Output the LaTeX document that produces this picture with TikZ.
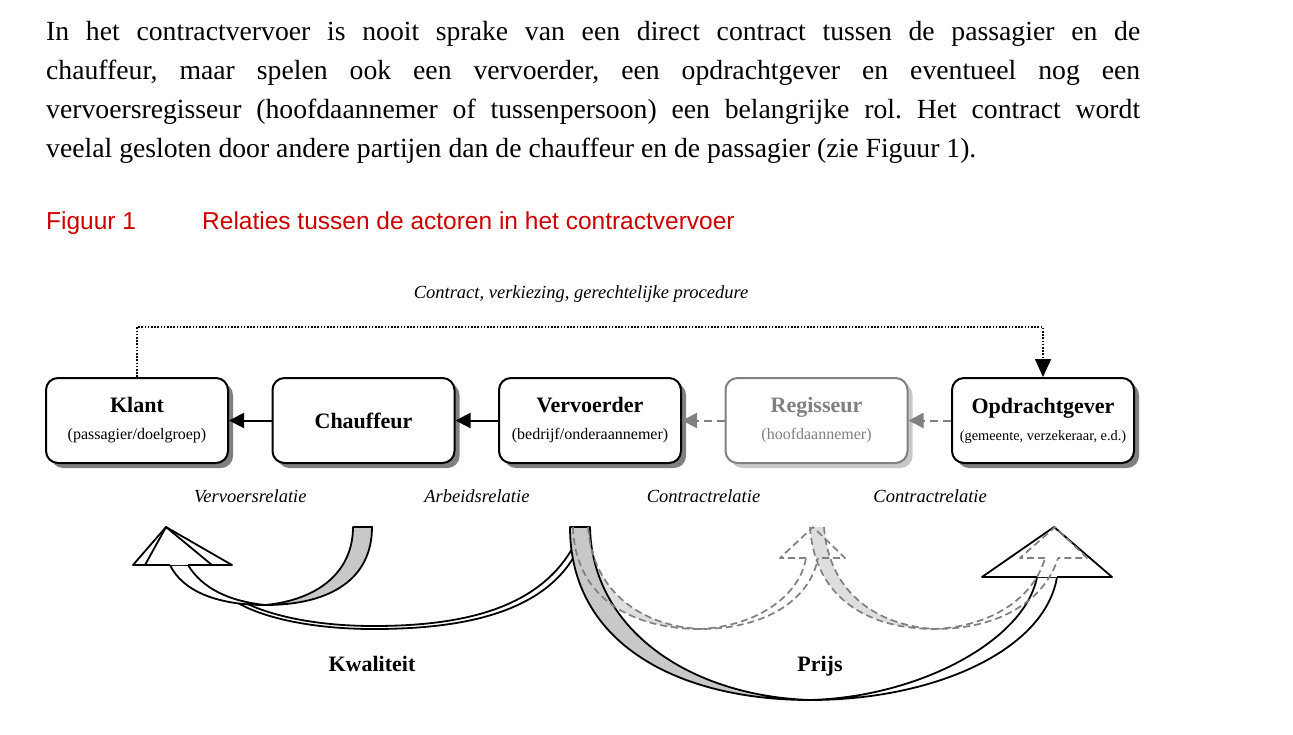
\documentclass[tikz,border=0pt]{standalone}
\usepackage{fontspec}
\setmainfont{Liberation Serif}
\newfontfamily\captionfont{Liberation Sans}
\definecolor{CapRed}{RGB}{204, 0, 0}
\definecolor{ShadeGray}{RGB}{200, 200, 200}
\definecolor{PaleGray}{RGB}{222, 222, 222}
\definecolor{GhostGray}{RGB}{128, 128, 128}
\usetikzlibrary{arrows.meta, positioning, shadows}
\frenchspacing

\begin{document}
\begin{tikzpicture}[x=1pt, y=-1pt,
            intro/.style={text width=1094pt, align=justify, inner sep=0pt, font=\fontsize{27.7}{39}\selectfont},
            caption/.style={inner sep=0pt, text=CapRed, font=\captionfont\fontsize{24.5}{28}\selectfont},
            boxbase/.style={rectangle, line width=2pt, rounded corners=12pt, fill=white, minimum width=182pt, minimum height=85pt, inner sep=0pt, align=center, font=\fontsize{22}{27}\selectfont\bfseries},
            actor/.style={boxbase, draw=black, drop shadow={shadow xshift=5pt, shadow yshift=-5pt, fill=gray, opacity=1}},
            ghost/.style={boxbase, draw=GhostGray, text=GhostGray, drop shadow={shadow xshift=5pt, shadow yshift=-5pt, fill=ShadeGray, opacity=1}},
            link/.style={line width=2pt, -{Triangle[length=15pt, width=15pt]}},
            ghostlink/.style={link, GhostGray, dash pattern=on 8pt off 5pt},
            relation/.style={anchor=base, inner sep=0pt, font=\fontsize{18.5}{22}\selectfont\itshape},
            flow/.style={anchor=base, inner sep=0pt, font=\fontsize{22}{26}\selectfont\bfseries},
            ribbon/.style={draw, line width=1.8pt, line join=round},
            backside/.style={ribbon, fill=ShadeGray},
            frontside/.style={ribbon, fill=white},
            ghostline/.style={draw=GhostGray, line width=1.7pt, line join=round, dash pattern=on 7pt off 4pt},
        ]
            \useasboundingbox (0,0) rectangle (1293,734);

            % tekst boven de figuur
            \node[intro, anchor=base west] (intro) at (46,40) {In het contractvervoer is nooit sprake van een direct contract tussen de passagier en de\linebreak chauffeur, maar spelen ook een vervoerder, een opdrachtgever en eventueel nog een\linebreak vervoersregisseur (hoofdaannemer of tussenpersoon) een belangrijke rol. Het contract wordt\linebreak veelal gesloten door andere partijen dan de chauffeur en de passagier (zie Figuur 1).};
            \node[caption, anchor=base west] (fignum) at (46,229) {Figuur 1};
            \node[caption, anchor=base west] (figtitle) at (202,229) {Relaties tussen de actoren in het contractvervoer};

            % actoren
            \node[actor] (klant) at (137,420.5) {Klant\\{\mdseries\fontsize{16}{27}\selectfont (passagier/doelgroep)}};
            \node[actor, right=42.5pt of klant] (chauffeur) {Chauffeur};
            \node[actor, right=42.5pt of chauffeur] (vervoerder) {Vervoerder\\{\mdseries\fontsize{16}{27}\selectfont (bedrijf/onderaannemer)}};
            \node[ghost, right=42.5pt of vervoerder] (regisseur) {Regisseur\\{\mdseries\fontsize{16}{27}\selectfont (hoofdaannemer)}};
            \node[actor, right=42.5pt of regisseur] (opdracht) {Opdrachtgever\\{\mdseries\fontsize{14.4}{27}\selectfont (gemeente, verzekeraar, e.d.)}};

            \draw[link] (chauffeur) -- (klant);
            \draw[link] (vervoerder) -- (chauffeur);
            \draw[ghostlink] (regisseur) -- (vervoerder);
            \draw[ghostlink] (opdracht) -- (regisseur);
            \draw[line width=1.6pt, dash pattern=on 1.6pt off 1.6pt, -{Triangle[length=18pt, width=16pt]}] (klant.north) -- ++(0,-50) -| (opdracht.north);

            \node[relation] (procedure) at (581,298) {Contract, verkiezing, gerechtelijke procedure};
            \node[relation] (vervoersrel) at (250.3,502) {Vervoersrelatie};
            \node[relation] (arbeidsrel) at (476.9,502) {Arbeidsrelatie};
            \node[relation] (contractrel1) at (703.5,502) {Contractrelatie};
            \node[relation] (contractrel2) at (930.1,502) {Contractrelatie};

            % achterkant van de stippel-pijlen
            \fill[PaleGray] (573,527) -- (588,527) .. controls (593,595) and (645,626) .. (700,629) .. controls (635,629) and (575,600) .. (573,527) -- cycle;
            \fill[PaleGray] (810,527) -- (824,527) .. controls (829,595) and (880,626) .. (935,629) .. controls (870,629) and (815,600) .. (810,527) -- cycle;

            % kwaliteit
            \draw[frontside] (575,555) .. controls (540,616) and (455,629) .. (373,629) .. controls (310,629) and (262,617) .. (238,603) -- (242,601) .. controls (265,614) and (312,626) .. (373,626) .. controls (455,626) and (535,612) .. (572,549);
            \draw[backside] (353,527) -- (372,527) .. controls (372,578) and (332,605) .. (265,605) .. controls (318,600) and (353,572) .. (353,527) -- cycle;
            \draw[frontside] (265,605) .. controls (215,605) and (182,590) .. (170,565) -- (188,565) .. controls (202,588) and (228,601) .. (265,605) -- cycle;
            \draw[frontside] (170,565) -- (133,565) -- (166,527) -- (232,565) -- (188,565);
            \draw[ribbon] (145,565) -- (166,527) -- (212,565);

            % prijs
            \draw[backside] (570,527) -- (590,527) .. controls (592,630) and (690,696) .. (810,700) .. controls (680,700) and (570,645) .. (570,527) -- cycle;
            \draw[frontside] (810,700) .. controls (935,700) and (1045,650) .. (1057,577) -- (1037,577) .. controls (1025,640) and (920,697) .. (810,700) -- cycle;
            \draw[frontside] (1037,577) -- (982,577) -- (1054,527) -- (1112,577) -- (1057,577);

            % via de regisseur
            \draw[ghostline] (573,527) .. controls (575,600) and (635,629) .. (700,629) .. controls (765,629) and (810,600) .. (818,558);
            \draw[ghostline] (588,527) .. controls (593,595) and (645,626) .. (700,629) .. controls (758,626) and (800,595) .. (806,558);
            \draw[ghostline] (806,558) -- (780,558) -- (813,527) -- (845,558) -- (818,558);
            \draw[ghostline] (810,527) .. controls (815,600) and (870,629) .. (935,629) .. controls (1000,629) and (1045,600) .. (1058,558);
            \draw[ghostline] (824,527) .. controls (829,595) and (880,626) .. (935,629) .. controls (995,626) and (1035,595) .. (1045,558);
            \draw[ghostline] (1045,558) -- (1020,558) -- (1055,527) -- (1087,558) -- (1058,558);

            \node[flow] (kwaliteit) at (372,671) {Kwaliteit};
            \node[flow] (prijs) at (820,671) {Prijs};
        \end{tikzpicture}
\end{document}
